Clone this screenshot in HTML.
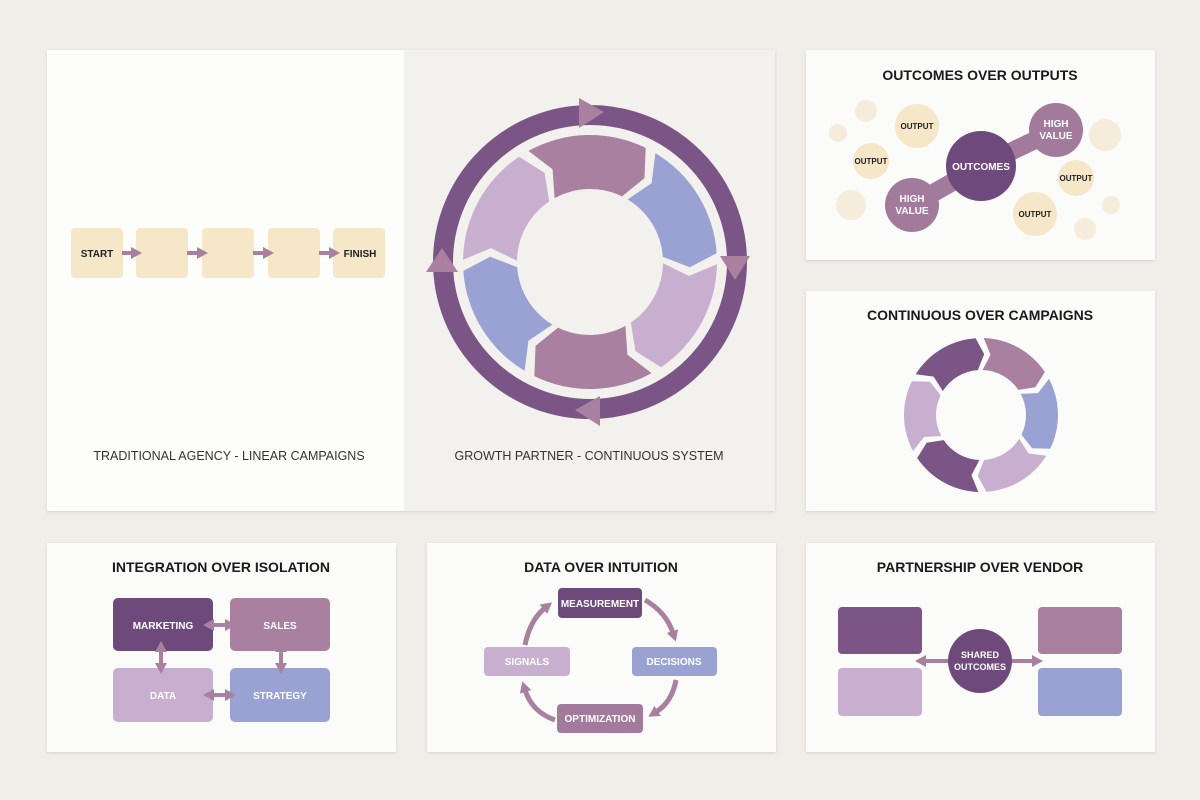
<!DOCTYPE html>
<html><head><meta charset="utf-8"><style>
body{margin:0;background:#f1eeea;width:1200px;height:800px;overflow:hidden}
svg{display:block}
text{font-family:"Liberation Sans",sans-serif}
</style></head><body>
<svg width="1200" height="800" viewBox="0 0 1200 800">
<defs>
<filter id="sh" x="-5%" y="-5%" width="110%" height="115%"><feDropShadow dx="0" dy="1" stdDeviation="1.5" flood-color="#000" flood-opacity="0.12"/></filter>
<marker id="ah" markerUnits="userSpaceOnUse" markerWidth="11" markerHeight="12" refX="2" refY="6" orient="auto"><path d="M0,0 L11,6 L0,12 Z" fill="#a9809f"/></marker>
<marker id="ahs" markerUnits="userSpaceOnUse" markerWidth="11" markerHeight="12" refX="2" refY="6" orient="auto-start-reverse"><path d="M0,0 L11,6 L0,12 Z" fill="#a9809f"/></marker>
</defs>
<rect x="0" y="0" width="1200" height="800" fill="#f1eeea"/>
<g filter="url(#sh)">
<rect x="47" y="50" width="728" height="461" fill="#f3f1ed"/>
<rect x="806" y="50" width="349" height="210" fill="#fbfbfa"/>
<rect x="806" y="291" width="349" height="220" fill="#fbfbfa"/>
<rect x="47" y="543" width="349" height="209" fill="#fbfbfa"/>
<rect x="427" y="543" width="349" height="209" fill="#fbfbfa"/>
<rect x="806" y="543" width="349" height="209" fill="#fbfbfa"/>
</g>
<rect x="47" y="50" width="357" height="461" fill="#fdfdfc"/>
<!-- linear -->
<g fill="#f5e7c8">
<rect x="71" y="228" width="52" height="50" rx="4"/>
<rect x="136" y="228" width="52" height="50" rx="4"/>
<rect x="202" y="228" width="52" height="50" rx="4"/>
<rect x="268" y="228" width="52" height="50" rx="4"/>
<rect x="333" y="228" width="52" height="50" rx="4"/>
</g>
<g stroke="#a9809f" stroke-width="4" marker-end="url(#ah)">
<line x1="122" y1="253" x2="133" y2="253"/>
<line x1="187" y1="253" x2="199" y2="253"/>
<line x1="253" y1="253" x2="265" y2="253"/>
<line x1="319" y1="253" x2="331" y2="253"/>
</g>
<text x="97" y="257" font-size="10" font-weight="bold" text-anchor="middle" fill="#222">START</text>
<text x="360" y="257" font-size="10" font-weight="bold" text-anchor="middle" fill="#222">FINISH</text>
<text x="229" y="460" font-size="12.5" text-anchor="middle" fill="#333">TRADITIONAL AGENCY - LINEAR CAMPAIGNS</text>
<text x="589" y="460" font-size="12.5" text-anchor="middle" fill="#333">GROWTH PARTNER - CONTINUOUS SYSTEM</text>
<circle cx="590" cy="262" r="147" fill="none" stroke="#7a5586" stroke-width="20"/>
<g id="segs"></g>
<g fill="#a9809f">
<path d="M579,98 L604,112 L579,128 Z"/>
<path d="M720,256 L750,256 L735,280 Z"/>
<path d="M600,396 L575,410 L600,426 Z"/>
<path d="M426,272 L458,272 L442,248 Z"/>
</g>
<g id="segs2"></g>
<!-- outcomes -->
<text x="980" y="80" font-size="14" font-weight="bold" text-anchor="middle" fill="#1a1a1a">OUTCOMES OVER OUTPUTS</text>
<g fill="#f6ecdc">
<circle cx="866" cy="111" r="11"/><circle cx="838" cy="133" r="9"/><circle cx="1105" cy="135" r="16"/>
<circle cx="851" cy="205" r="15"/><circle cx="1111" cy="205" r="9"/><circle cx="1085" cy="229" r="11"/>
</g>
<g fill="#f5e7c8">
<circle cx="917" cy="126" r="22"/><circle cx="871" cy="161" r="18"/><circle cx="1076" cy="178" r="18"/><circle cx="1035" cy="214" r="22"/>
</g>
<g font-size="8" font-weight="bold" text-anchor="middle" fill="#222">
<text x="917" y="129">OUTPUT</text><text x="871" y="164">OUTPUT</text><text x="1076" y="181">OUTPUT</text><text x="1035" y="217">OUTPUT</text>
</g>
<path d="M1056,130 L981,166 L912,205" stroke="#a27a9c" stroke-width="18" fill="none"/>
<circle cx="1056" cy="130" r="27" fill="#a27a9c"/>
<circle cx="912" cy="205" r="27" fill="#a27a9c"/>
<circle cx="981" cy="166" r="35" fill="#6e4a7c"/>
<g font-size="10" font-weight="bold" text-anchor="middle" fill="#fff">
<text x="981" y="170">OUTCOMES</text>
<text x="1056" y="127">HIGH</text><text x="1056" y="139">VALUE</text>
<text x="912" y="202">HIGH</text><text x="912" y="214">VALUE</text>
</g>
<text x="980" y="320" font-size="14" font-weight="bold" text-anchor="middle" fill="#1a1a1a">CONTINUOUS OVER CAMPAIGNS</text>
<!-- integration -->
<text x="221" y="572" font-size="14" font-weight="bold" text-anchor="middle" fill="#1a1a1a">INTEGRATION OVER ISOLATION</text>
<rect x="113" y="598" width="100" height="53" rx="5" fill="#6e4a7c"/>
<rect x="230" y="598" width="100" height="53" rx="5" fill="#a9809f"/>
<rect x="113" y="668" width="100" height="54" rx="5" fill="#c8afd0"/>
<rect x="230" y="668" width="100" height="54" rx="5" fill="#9aa2d4"/>
<g stroke="#a9809f" stroke-width="4" marker-end="url(#ah)" marker-start="url(#ahs)">
<line x1="212" y1="625" x2="227" y2="625"/>
<line x1="212" y1="695" x2="227" y2="695"/>
<line x1="161" y1="650" x2="161" y2="665"/>
<line x1="281" y1="650" x2="281" y2="665"/>
</g>
<g font-size="10" font-weight="bold" text-anchor="middle" fill="#fff">
<text x="163" y="629">MARKETING</text><text x="280" y="629">SALES</text><text x="163" y="699">DATA</text><text x="280" y="699">STRATEGY</text>
</g>
<!-- data -->
<text x="601" y="572" font-size="14" font-weight="bold" text-anchor="middle" fill="#1a1a1a">DATA OVER INTUITION</text>
<g stroke="#a9809f" stroke-width="5" fill="none" marker-end="url(#ah)">
<path d="M645,600 Q666,612 673,633"/>
<path d="M676,680 Q672,702 656,712"/>
<path d="M555,720 Q532,712 525,690"/>
<path d="M525,645 Q530,620 545,608"/>
</g>
<rect x="558" y="588" width="84" height="30" rx="4" fill="#6e4a7c"/>
<rect x="484" y="647" width="86" height="29" rx="4" fill="#c8afd0"/>
<rect x="632" y="647" width="85" height="29" rx="4" fill="#9aa2d4"/>
<rect x="557" y="704" width="86" height="29" rx="4" fill="#a27a9c"/>
<g font-size="10" font-weight="bold" text-anchor="middle" fill="#fff">
<text x="600" y="607">MEASUREMENT</text><text x="527" y="665">SIGNALS</text><text x="674" y="665">DECISIONS</text><text x="600" y="722">OPTIMIZATION</text>
</g>
<!-- partnership -->
<text x="980" y="572" font-size="14" font-weight="bold" text-anchor="middle" fill="#1a1a1a">PARTNERSHIP OVER VENDOR</text>
<rect x="838" y="607" width="84" height="47" rx="4" fill="#7a5586"/>
<rect x="838" y="668" width="84" height="48" rx="4" fill="#c8afd0"/>
<rect x="1038" y="607" width="84" height="47" rx="4" fill="#a9809f"/>
<rect x="1038" y="668" width="84" height="48" rx="4" fill="#9aa2d4"/>
<g stroke="#a9809f" stroke-width="4" marker-end="url(#ah)" marker-start="url(#ahs)">
<line x1="924" y1="661" x2="1034" y2="661"/>
</g>
<circle cx="980" cy="661" r="32" fill="#6e4a7c"/>
<g font-size="9" font-weight="bold" text-anchor="middle" fill="#fff">
<text x="980" y="658">SHARED</text><text x="980" y="670">OUTCOMES</text>
</g>
</svg>
<script>
function seg(cx,cy,ro,ri,a0,a1,col){
 const r=Math.PI/180;const p=(R,a)=>[cx+R*Math.cos(a*r),cy+R*Math.sin(a*r)];
 const A=p(ro,a0),B=p(ro,a1),C=p((ro+ri)/2,a1+7),D=p(ri,a1),E=p(ri,a0),F=p((ro+ri)/2,a0+7);
 return `<path d="M${A} A${ro},${ro} 0 0 1 ${B} L${C} L${D} A${ri},${ri} 0 0 0 ${E} L${F} Z" fill="${col}"/>`;
}
let s='';const cols=['#a9809f','#9aa2d4','#c8afd0','#a9809f','#9aa2d4','#c8afd0'];
for(let i=0;i<6;i++){const c=-90+i*60;s+=seg(590,262,127,73,c-29,c+26,cols[i]);}
document.getElementById('segs').innerHTML=s;
let t='';const cols2=['#7a5586','#a9809f','#9aa2d4','#c8afd0','#7a5586','#c8afd0'];
for(let i=0;i<6;i++){const c=-120+i*60;t+=seg(981,415,77,45,c-28,c+26,cols2[i]);}
document.getElementById('segs2').innerHTML=t;
</script>
</body></html>
